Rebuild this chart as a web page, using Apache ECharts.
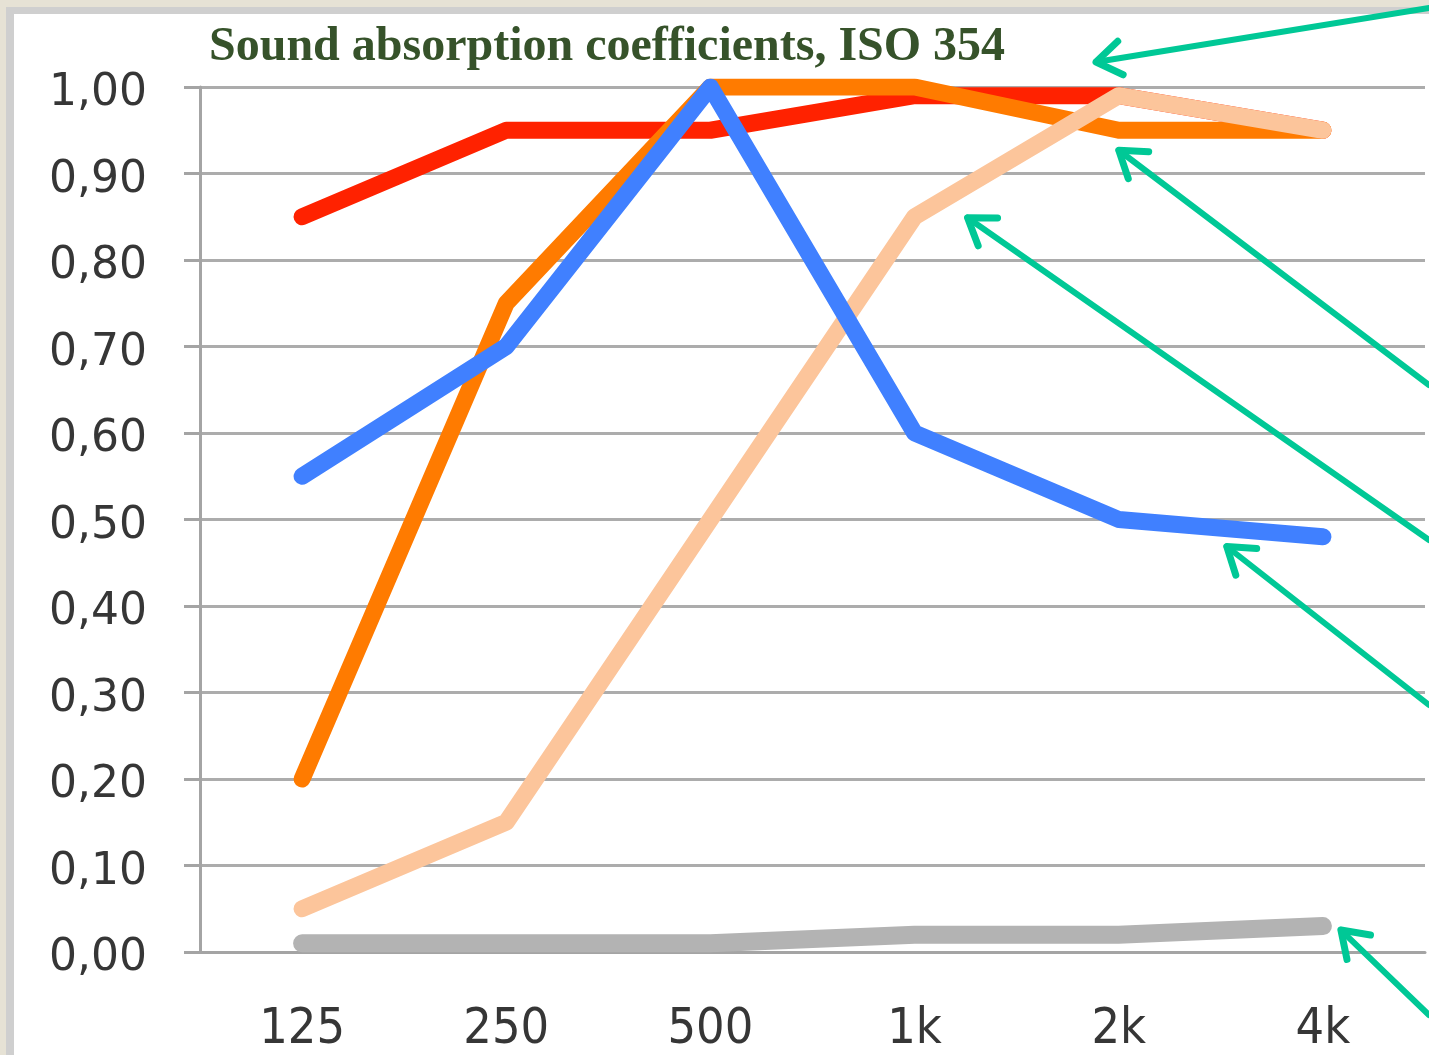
<!DOCTYPE html>
<html>
<head>
<meta charset="utf-8">
<title>Sound absorption coefficients</title>
<script src="https://cdn.jsdelivr.net/npm/echarts@6/dist/echarts.min.js"></script>
<style>
    html, body { margin: 0; padding: 0; background: #fff; }
    #main { width: 1429px; height: 1055px; }
</style>
</head>
<body>
<div id="main"></div>
<script>
// frequency bands
var bands = ['125', '250', '500', '1k', '2k', '4k'];
// absorption coefficients per material
var redLine = [0.85, 0.95, 0.95, 0.99, 0.99, 0.95];
var orangeLine = [0.20, 0.75, 1.00, 1.00, 0.95, 0.95];
var peachLine = [0.05, 0.15, 0.50, 0.85, 0.99, 0.95];
var blueLine = [0.55, 0.70, 1.00, 0.60, 0.50, 0.48];
var greyLine = [0.01, 0.01, 0.01, 0.02, 0.02, 0.03];

var myChart = echarts.init(document.getElementById('main'));

function lineSeries(name, data, color, width) {
    return {
        name: name,
        type: 'line',
        data: data,
        symbol: 'none',
        silent: true,
        lineStyle: { color: color, width: width, cap: 'round', join: 'round' }
    };
}

var option = {
    backgroundColor: '#fff',
    animation: false,
    title: {
        text: 'Sound absorption coefficients, ISO 354',
        left: 204,
        top: 19,
        textStyle: {
            fontFamily: 'Liberation Serif',
            fontWeight: 'bold',
            fontSize: 48,
            color: '#36522a'
        }
    },
    grid: { left: 200, right: 4, top: 87, bottom: 102 },
    xAxis: {
        type: 'category',
        data: bands,
        boundaryGap: true,
        axisLine: { lineStyle: { color: '#a4a4a4', width: 3 } },
        axisTick: { length: 16, lineStyle: { color: '#a4a4a4', width: 3 } },
        axisLabel: {
            margin: 53,
            fontFamily: 'DejaVu Sans Condensed',
            fontSize: 50,
            color: '#363636'
        }
    },
    yAxis: {
        type: 'value',
        min: 0,
        max: 1,
        interval: 0.1,
        axisLine: { show: true, lineStyle: { color: '#a4a4a4', width: 3 } },
        axisTick: { show: true, length: 16, lineStyle: { color: '#a4a4a4', width: 3 } },
        splitLine: { lineStyle: { color: '#acacac', width: 3 } },
        axisLabel: {
            margin: 53,
            fontFamily: 'DejaVu Sans',
            fontSize: 44,
            color: '#363636',
            verticalAlign: 'top',
            lineHeight: 14,
            formatter: function (v) {
                return v.toFixed(2).replace('.', ',');
            }
        }
    },
    series: [
        lineSeries('red', redLine, '#ff2200', 17),
        lineSeries('orange', orangeLine, '#ff7b00', 17),
        lineSeries('peach', peachLine, '#fcc59b', 17),
        lineSeries('blue', blueLine, '#4080ff', 17),
        lineSeries('grey', greyLine, '#b3b3b3', 18)
    ]
};

myChart.setOption(option);

// 注释箭头（指向曲线）
var green = '#00c896';
function px(cat, val, dx, dy) {
    var p = myChart.convertToPixel({ gridIndex: 0 }, [cat, val]);
    return [p[0] + dx, p[1] + dy];
}
var arrows = [
    { tip: [1096, 62], tail: [1429, 8] },
    { tip: px('2k', 0.95, 0, 20), tail: [1429, 385] },
    { tip: px('1k', 0.85, 53, 1), tail: [1429, 540] },
    { tip: px('2k', 0.50, 108, 27), tail: [1429, 705] },
    { tip: px('4k', 0.03, 18, 4), tail: [1429, 1015] }
];

var graphics = [
    // frame
    { type: 'rect', shape: { x: 0, y: 0, width: 1429, height: 7 }, style: { fill: '#e6e2d5' } },
    { type: 'rect', shape: { x: 0, y: 0, width: 6, height: 1055 }, style: { fill: '#e6e2d5' } },
    { type: 'rect', shape: { x: 6, y: 7, width: 1423, height: 7 }, style: { fill: '#cfcfcf' } },
    { type: 'rect', shape: { x: 6, y: 7, width: 8, height: 1048 }, style: { fill: '#cfcfcf' } }
];

arrows.forEach(function (a) {
    var ang = Math.atan2(a.tail[1] - a.tip[1], a.tail[0] - a.tip[0]);
    var len = 30, spread = 0.6;
    var h1 = [a.tip[0] + len * Math.cos(ang + spread), a.tip[1] + len * Math.sin(ang + spread)];
    var h2 = [a.tip[0] + len * Math.cos(ang - spread), a.tip[1] + len * Math.sin(ang - spread)];
    graphics.push({
        type: 'line', z: 100,
        shape: { x1: a.tail[0], y1: a.tail[1], x2: a.tip[0], y2: a.tip[1] },
        style: { stroke: green, lineWidth: 6, lineCap: 'round' }
    });
    graphics.push({
        type: 'polyline', z: 100,
        shape: { points: [h1, a.tip, h2] },
        style: { stroke: green, lineWidth: 7, lineCap: 'round', lineJoin: 'round', fill: null }
    });
});

myChart.setOption({ graphic: graphics });
</script>
</body>
</html>
